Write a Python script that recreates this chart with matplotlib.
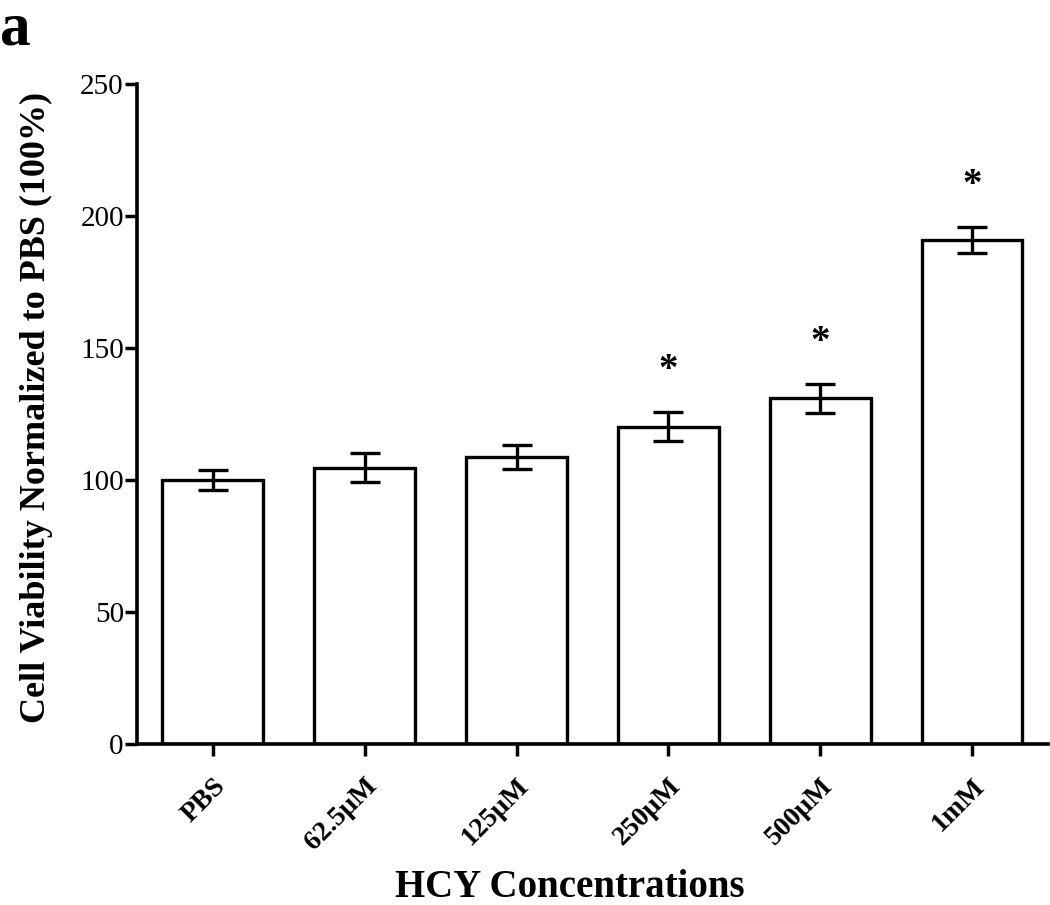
import matplotlib
matplotlib.use("Agg")
import matplotlib.pyplot as plt
import numpy as np

# datos
categorias = ["PBS", "62.5μM", "125μM", "250μM", "500μM", "1mM"]
viabilidad = [100, 104.7, 108.8, 120.2, 130.9, 190.9]
error = [3.7, 5.5, 4.5, 5.5, 5.6, 5.0]
significativo = [False, False, False, True, True, True]

plt.rcParams['font.family'] = ['Liberation Serif', 'DejaVu Serif']

fig = plt.figure(figsize=(10.5, 9.05), dpi=100)
ax = fig.add_axes([0.1305, 0.178, 0.8675, 0.729])

x = np.arange(len(categorias))
ax.bar(x, viabilidad, width=0.665, color='white', edgecolor='black', linewidth=2.4)
ax.errorbar(x, viabilidad, yerr=error, fmt='none', ecolor='black',
            elinewidth=2.4, capsize=11, capthick=2.4)

# asteriscos de significancia
for xi, v, e, s in zip(x, viabilidad, error, significativo):
    if s:
        ax.annotate('*', (xi, v + e), xytext=(0, 30), textcoords='offset points',
                    ha='center', va='center', fontsize=28, fontweight='bold')

ax.set_xlim(-0.5, 5.5)
ax.set_ylim(0, 250)
ax.set_yticks([0, 50, 100, 150, 200, 250])
ax.set_xticks(x)
ax.set_xticklabels(categorias, rotation=45, ha='right', rotation_mode='anchor',
                   fontweight='bold', fontsize=20)
ax.tick_params(axis='y', labelsize=21, width=2.5, length=8.5, direction='out', pad=1)
ax.tick_params(axis='x', width=2.5, length=8.5, direction='out', pad=13)
for lado in ['top', 'right']:
    ax.spines[lado].set_visible(False)
for lado in ['left', 'bottom']:
    ax.spines[lado].set_linewidth(2.6)

ax.set_ylabel("Cell Viability Normalized to PBS (100%)", fontweight='bold', fontsize=26)
ax.yaxis.set_label_coords(-0.092, 0.51)
ax.set_xlabel("HCY Concentrations", fontweight='bold', fontsize=28, va='baseline')
ax.xaxis.set_label_coords(0.475, -0.232)

fig.text(0.0, 0.998, "a", fontsize=44, fontweight='bold', ha='left', va='top')

fig.savefig("out.png", dpi=100)
